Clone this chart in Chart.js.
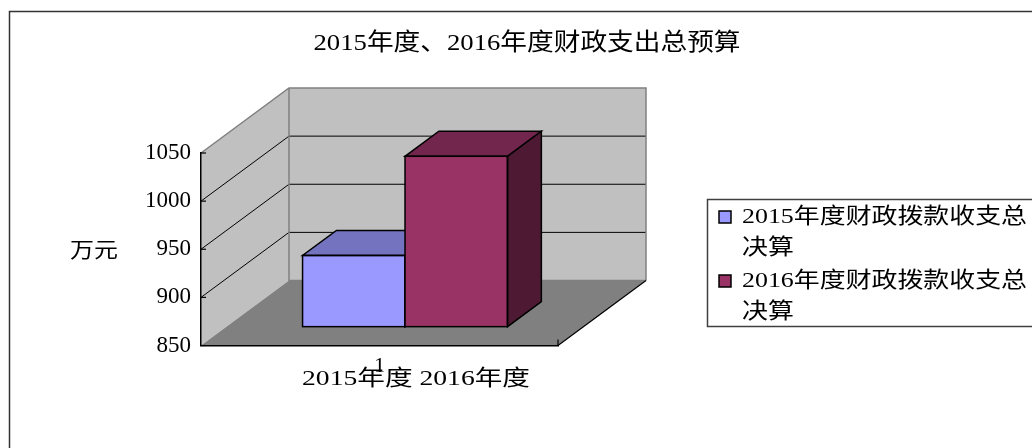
<!DOCTYPE html>
<html>
<head>
<meta charset="utf-8">
<script src="https://cdn.jsdelivr.net/npm/chart.js@4/dist/chart.umd.min.js"></script>
<style>
  html, body { margin: 0; padding: 0; background: #fff; overflow: hidden; }
  canvas { display: block; }
</style>
</head>
<body>
<canvas id="c" width="1032" height="448"></canvas>
<script>
// chart data
const chartTitle = '2015年度、2016年度财政支出总预算';
const categories = ['1'];
const seriesNames = ['2015年度财政拨款收支总决算', '2016年度财政拨款收支总决算'];
const values2015 = [924];
const values2016 = [1027];
const yTicks = [850, 900, 950, 1000, 1050];
const yTitle = '万元';
const xTitle = '2015年度 2016年度';

var SERIF = '"Liberation Serif", "Noto Sans CJK SC", serif';
// walls/floor depth and where the bars sit inside it
var DEPTH_X = 88, DEPTH_Y = -65;
var BAR_Z0 = 0.29, BAR_Z1 = 0.675;

function poly(ctx, pts, fill, stroke, lw) {
  ctx.beginPath();
  ctx.moveTo(pts[0][0], pts[0][1]);
  for (var i = 1; i < pts.length; i++) ctx.lineTo(pts[i][0], pts[i][1]);
  ctx.closePath();
  if (fill) { ctx.fillStyle = fill; ctx.fill(); }
  if (stroke) { ctx.strokeStyle = stroke; ctx.lineWidth = lw || 1; ctx.stroke(); }
}

function line(ctx, x1, y1, x2, y2, color, lw) {
  ctx.beginPath();
  ctx.moveTo(x1, y1);
  ctx.lineTo(x2, y2);
  ctx.strokeStyle = color;
  ctx.lineWidth = lw || 1;
  ctx.stroke();
}

function textWidth(ctx, str, size) {
  ctx.font = size + 'px ' + SERIF;
  return ctx.measureText(str).width;
}

// text squeezed/stretched horizontally by sx, like the old office render
function putText(ctx, str, x, y, size, align, sx) {
  ctx.save();
  ctx.font = size + 'px ' + SERIF;
  ctx.fillStyle = '#000';
  ctx.textBaseline = 'middle';
  ctx.textAlign = align || 'center';
  ctx.translate(x, y);
  ctx.scale(sx || 1, 1);
  ctx.fillText(str, 0, 0);
  ctx.restore();
}

var scenePlugin = {
  id: 'scene3d',
  beforeDraw: function(chart) {
    var ctx = chart.ctx;
    var ca = chart.chartArea;
    var ys = chart.scales.y;
    ctx.save();
    ctx.fillStyle = '#fff';
    ctx.fillRect(0, 0, chart.width, chart.height);

    // outer frame
    ctx.strokeStyle = '#333';
    ctx.lineWidth = 1.5;
    ctx.strokeRect(9.5, 11.5, 1200, 600);

    // title
    var tw = textWidth(ctx, chartTitle, 24);
    putText(ctx, chartTitle, 527, 44, 24, 'center', 427 / tw);

    var L = ca.left, R = ca.right, T = ys.getPixelForValue(yTicks[yTicks.length - 1]);
    var B = ys.getPixelForValue(yTicks[0]);

    // side wall
    poly(ctx, [[L, T], [L + DEPTH_X, T + DEPTH_Y], [L + DEPTH_X, B + DEPTH_Y], [L, B]], '#c0c0c0');
    // back wall
    poly(ctx, [[L + DEPTH_X, T + DEPTH_Y], [R + DEPTH_X, T + DEPTH_Y], [R + DEPTH_X, B + DEPTH_Y], [L + DEPTH_X, B + DEPTH_Y]], '#c0c0c0');
    // floor
    poly(ctx, [[L, B], [L + DEPTH_X, B + DEPTH_Y], [R + DEPTH_X, B + DEPTH_Y], [R, B]], '#808080');

    // gridlines on side and back walls
    yTicks.forEach(function(v) {
      if (v === yTicks[0] || v === yTicks[yTicks.length - 1]) return;
      var y = ys.getPixelForValue(v);
      line(ctx, L, y, L + DEPTH_X, y + DEPTH_Y, '#000', 1);
      line(ctx, L + DEPTH_X, y + DEPTH_Y, R + DEPTH_X, y + DEPTH_Y, '#000', 1);
    });
    // wall edges
    ctx.lineJoin = 'miter';
    ctx.beginPath();
    ctx.moveTo(L, T);
    ctx.lineTo(L + DEPTH_X, T + DEPTH_Y);
    ctx.lineTo(R + DEPTH_X, T + DEPTH_Y);
    ctx.lineTo(R + DEPTH_X, B + DEPTH_Y);
    ctx.moveTo(L + DEPTH_X, T + DEPTH_Y);
    ctx.lineTo(L + DEPTH_X, B + DEPTH_Y);
    ctx.lineTo(R + DEPTH_X, B + DEPTH_Y);
    ctx.strokeStyle = '#808080';
    ctx.lineWidth = 1.5;
    ctx.stroke();
    // floor right edge
    line(ctx, R, B, R + DEPTH_X, B + DEPTH_Y, '#000', 1.2);

    // small inner tick marks
    yTicks.forEach(function(v) {
      var y = ys.getPixelForValue(v);
      line(ctx, L, y, L + 5, y, '#000', 1.2);
    });
    line(ctx, R, B, R, B - 6, '#000', 1.2);

    // axis titles
    var sxY = 48 / textWidth(ctx, yTitle, 21);
    putText(ctx, yTitle, 70, 251, 21, 'left', sxY);
    var sxX = 228 / textWidth(ctx, xTitle, 22);
    putText(ctx, xTitle, 302, 379, 22, 'left', sxX);
    ctx.restore();
  },
  beforeDatasetsDraw: function(chart) {
    var ctx = chart.ctx;
    var fx = DEPTH_X * BAR_Z0, fy = DEPTH_Y * BAR_Z0;
    var dx = DEPTH_X * (BAR_Z1 - BAR_Z0), dy = DEPTH_Y * (BAR_Z1 - BAR_Z0);
    var bars = [];
    chart.data.datasets.forEach(function(ds, i) {
      chart.getDatasetMeta(i).data.forEach(function(el) { bars.push({ el: el, ds: ds }); });
    });
    // left to right so each front face covers the one behind it
    bars.sort(function(a, b) { return a.el.x - b.el.x; });
    ctx.save();
    ctx.translate(fx, fy);
    ctx.lineJoin = 'miter';
    bars.forEach(function(b) {
      var p = b.el.getProps(['x', 'y', 'base', 'width'], true);
      var l = p.x - p.width / 2, r = p.x + p.width / 2;
      b.el.draw(ctx);
      poly(ctx, [[l, p.y], [r, p.y], [r + dx, p.y + dy], [l + dx, p.y + dy]], b.ds.topColor, '#000', 1.5);
      poly(ctx, [[r, p.y], [r + dx, p.y + dy], [r + dx, p.base + dy], [r, p.base]], b.ds.sideColor, '#000', 1.5);
      ctx.strokeStyle = '#000';
      ctx.lineWidth = 1.5;
      ctx.strokeRect(l, p.y, r - l, p.base - p.y);
    });
    ctx.restore();
    return false;
  },
  afterDraw: function(chart) {
    var ctx = chart.ctx;
    ctx.save();
    // legend box
    ctx.fillStyle = '#fff';
    ctx.fillRect(707.5, 199.5, 400, 127);
    ctx.strokeStyle = '#404040';
    ctx.lineWidth = 1.5;
    ctx.strokeRect(707.5, 199.5, 400, 127);
    var first = seriesNames[0].slice(0, -2);
    var sx = 285 / textWidth(ctx, first, 22);
    var rows = [217, 281];
    chart.data.datasets.forEach(function(ds, i) {
      var y = rows[i];
      ctx.fillStyle = ds.backgroundColor;
      ctx.fillRect(719, y - 6, 12, 12);
      ctx.strokeStyle = '#000';
      ctx.lineWidth = 1.5;
      ctx.strokeRect(719, y - 6, 12, 12);
      var name = ds.label;
      putText(ctx, name.slice(0, -2), 742, y, 22, 'left', sx);
      putText(ctx, name.slice(-2), 742, y + 31, 22, 'left', sx);
    });
    ctx.restore();
  }
};

new Chart(document.getElementById('c'), {
  type: 'bar',
  data: {
    labels: categories,
    datasets: [
      { label: seriesNames[0], data: values2015, backgroundColor: '#9999ff', topColor: '#7373bf', sideColor: '#4d4d80',
        borderColor: '#000', borderWidth: 0, base: yTicks[0] },
      { label: seriesNames[1], data: values2016, backgroundColor: '#993366', topColor: '#73264d', sideColor: '#4d1933',
        borderColor: '#000', borderWidth: 0, base: yTicks[0] }
    ]
  },
  options: {
    responsive: false,
    animation: false,
    devicePixelRatio: 1,
    layout: { padding: { left: 120, top: 153, right: 474, bottom: 40 } },
    datasets: { bar: { categoryPercentage: 0.574, barPercentage: 1 } },
    plugins: { legend: { display: false }, title: { display: false }, tooltip: { enabled: false } },
    scales: {
      x: {
        type: 'category',
        offset: true,
        grid: { display: false, drawTicks: false },
        border: { display: true, color: '#000', width: 1.5 },
        ticks: { color: '#000', padding: 8, font: { family: SERIF, size: 22 } },
        afterFit: function(s) { s.height = 62.5; }
      },
      y: {
        min: yTicks[0],
        max: yTicks[yTicks.length - 1],
        afterBuildTicks: function(s) { s.ticks = yTicks.map(function(v) { return { value: v }; }); },
        grid: { display: false, drawTicks: false },
        border: { display: true, color: '#000', width: 1.5 },
        ticks: { color: '#000', padding: 10, font: { family: SERIF, size: 23 },
                 callback: function(v) { return String(v); } },
        afterFit: function(s) { s.width = 81; }
      }
    }
  },
  plugins: [scenePlugin]
});
</script>
</body>
</html>
